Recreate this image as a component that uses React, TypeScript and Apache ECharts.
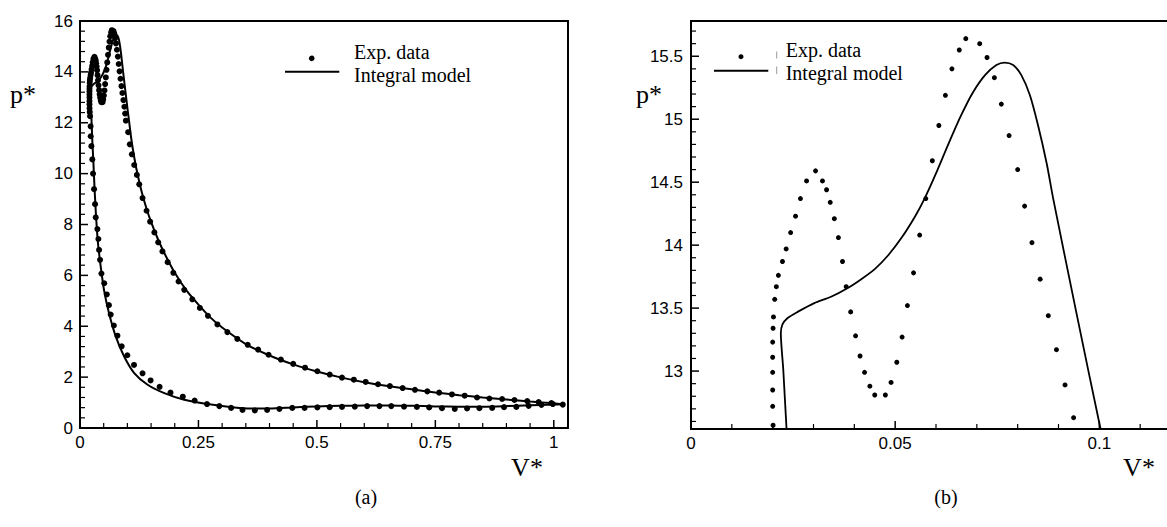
import React, { useEffect, useRef } from "react";
import * as echarts from "echarts";

// Experimental data (V*, p*) — compression branch
const expCompression: number[][] = [
  [0.998, 0.94], [0.974, 0.91], [0.947, 0.87], [0.921, 0.83], [0.895, 0.82], [0.87, 0.79],
  [0.843, 0.78], [0.817, 0.77], [0.791, 0.75], [0.764, 0.78], [0.737, 0.81], [0.711, 0.83],
  [0.684, 0.84], [0.657, 0.86], [0.632, 0.86], [0.606, 0.86], [0.58, 0.84], [0.553, 0.83],
  [0.527, 0.82], [0.501, 0.81], [0.474, 0.79], [0.448, 0.79], [0.421, 0.75], [0.395, 0.71],
  [0.369, 0.69], [0.343, 0.71], [0.319, 0.79], [0.294, 0.86], [0.268, 0.94], [0.242, 1.08],
  [0.217, 1.23], [0.191, 1.39], [0.168, 1.62], [0.149, 1.87], [0.132, 2.15], [0.114, 2.48],
  [0.1, 2.86], [0.088, 3.21], [0.079, 3.63], [0.0715, 4.03], [0.0648, 4.46], [0.061, 4.83],
  [0.0565, 5.25], [0.0512, 5.69], [0.0452, 6.07], [0.0424, 6.61], [0.0403, 7.0], [0.0388, 7.43],
  [0.0367, 7.82], [0.0332, 8.28], [0.0318, 8.8], [0.0297, 9.39], [0.0275, 10.0], [0.026, 10.56],
  [0.024, 11.08], [0.0226, 11.47], [0.0224, 11.86], [0.0212, 12.26], [0.0205, 12.42],
];

// Experimental data — combustion region
const expCombustion: number[][] = [
  [0.0201, 12.57], [0.02, 12.72], [0.02, 12.85], [0.02, 12.99], [0.02, 13.11], [0.02, 13.23],
  [0.0201, 13.34], [0.0202, 13.43], [0.0205, 13.57], [0.0209, 13.67], [0.0214, 13.76],
  [0.0224, 13.87], [0.0233, 13.97], [0.0244, 14.1], [0.0256, 14.23], [0.0268, 14.37],
  [0.0283, 14.51], [0.0305, 14.59], [0.0322, 14.51], [0.0332, 14.44], [0.0341, 14.34],
  [0.0351, 14.21], [0.0361, 14.06], [0.0371, 13.87], [0.038, 13.67], [0.0391, 13.47],
  [0.0403, 13.28], [0.0414, 13.12], [0.0425, 12.99], [0.0438, 12.88], [0.045, 12.81],
  [0.0476, 12.81], [0.049, 12.91], [0.0504, 13.07], [0.0517, 13.27], [0.053, 13.52],
  [0.0545, 13.78], [0.056, 14.08], [0.0575, 14.37], [0.0591, 14.67], [0.0607, 14.95],
  [0.0623, 15.19], [0.0639, 15.4], [0.0657, 15.55], [0.0673, 15.64], [0.0707, 15.6],
  [0.0725, 15.49], [0.0743, 15.33], [0.076, 15.12], [0.0779, 14.87], [0.08, 14.6],
  [0.0817, 14.31], [0.0835, 14.02], [0.0855, 13.73], [0.0875, 13.44], [0.0895, 13.17],
  [0.0916, 12.89], [0.0937, 12.63],
];

// Experimental data — expansion branch
const expExpansion: number[][] = [
  [0.0953, 12.36], [0.0968, 12.08], [0.1017, 11.63], [0.1052, 11.15], [0.1095, 10.76],
  [0.1144, 10.34], [0.12, 9.95], [0.125, 9.58], [0.132, 9.04], [0.1405, 8.54], [0.148, 8.11],
  [0.157, 7.69], [0.165, 7.3], [0.174, 6.94], [0.185, 6.52], [0.197, 6.1], [0.208, 5.76],
  [0.22, 5.43], [0.237, 5.06], [0.253, 4.72], [0.27, 4.41], [0.29, 4.07], [0.311, 3.77],
  [0.332, 3.5], [0.354, 3.27], [0.376, 3.08], [0.398, 2.88], [0.424, 2.69], [0.45, 2.52],
  [0.475, 2.37], [0.501, 2.23], [0.527, 2.1], [0.553, 1.98], [0.578, 1.9], [0.603, 1.81],
  [0.629, 1.72], [0.654, 1.65], [0.681, 1.57], [0.707, 1.5], [0.733, 1.44], [0.758, 1.39],
  [0.785, 1.32], [0.812, 1.27], [0.838, 1.2], [0.864, 1.16], [0.891, 1.14], [0.917, 1.1],
  [0.944, 1.06], [0.968, 1.02], [0.995, 0.98], [1.019, 0.92],
];

// Integral model — compression
const modelCompression: number[][] = [
  [1.02, 0.93], [1.0, 0.92], [0.95, 0.89], [0.9, 0.86], [0.85, 0.84], [0.8, 0.84], [0.75, 0.85],
  [0.7, 0.87], [0.65, 0.88], [0.6, 0.88], [0.55, 0.87], [0.5, 0.85], [0.45, 0.81], [0.4, 0.77],
  [0.36, 0.77], [0.326, 0.81], [0.277, 0.92], [0.22, 1.11], [0.178, 1.37], [0.1427, 1.7],
  [0.1144, 2.16], [0.0932, 2.81], [0.0756, 3.59], [0.0614, 4.5], [0.0508, 5.41], [0.0438, 6.33],
  [0.0381, 7.24], [0.0355, 7.85], [0.0332, 8.54], [0.0305, 9.5], [0.0282, 10.49], [0.0262, 11.2],
  [0.0245, 12.0], [0.0234, 12.54], [0.0226, 13.01], [0.022, 13.3],
];

// Integral model — combustion
const modelCombustion: number[][] = [
  [0.0224, 13.37], [0.0236, 13.42], [0.0261, 13.47], [0.0302, 13.54], [0.0343, 13.59],
  [0.0384, 13.66], [0.0417, 13.73], [0.045, 13.81], [0.0483, 13.92], [0.0516, 14.06],
  [0.0549, 14.23], [0.0572, 14.37], [0.06, 14.57], [0.063, 14.8], [0.066, 15.02], [0.069, 15.21],
  [0.072, 15.35], [0.0748, 15.43], [0.0768, 15.45], [0.0789, 15.43], [0.0809, 15.35],
  [0.083, 15.19], [0.085, 14.95], [0.0871, 14.65], [0.0887, 14.37], [0.0944, 13.46],
  [0.1003, 12.54],
];

// Integral model — expansion
const modelExpansion: number[][] = [
  [0.104, 12.0], [0.108, 11.4], [0.113, 10.8], [0.12, 10.1], [0.13, 9.3], [0.14, 8.65],
  [0.15, 8.1], [0.165, 7.4], [0.18, 6.8], [0.2, 6.1], [0.225, 5.4], [0.25, 4.85], [0.275, 4.35],
  [0.3, 3.95], [0.35, 3.3], [0.4, 2.85], [0.45, 2.5], [0.5, 2.22], [0.55, 1.99], [0.6, 1.8],
  [0.65, 1.65], [0.7, 1.52], [0.75, 1.4], [0.8, 1.29], [0.85, 1.2], [0.9, 1.12], [0.95, 1.04],
  [1.0, 0.97], [1.02, 0.93],
];

const legendLabels = ["Exp. data", "Integral model"];
const axisTitles = { x: "V*", y: "p*" };
const captions = ["(a)", "(b)"];

// Axis ranges and tick spacing (major, minor)
const leftX = { min: 0, max: 1.03, major: 0.25, minor: 0.05 };
const leftY = { min: 0, max: 16, major: 2, minor: 0.4 };
const rightX = { min: 0, max: 0.12, major: 0.05, minor: 0.01 };
const rightY = { min: 12.54, max: 15.78, major: 0.5, minor: 0.1 };

const expData = [...expCompression, ...expCombustion, ...expExpansion];
const modelData = [...modelCompression, ...modelCombustion, ...modelExpansion];

const SANS = "'Liberation Sans', Arial, Helvetica, sans-serif";
const SERIF = "'Liberation Serif', 'Times New Roman', Times, serif";

// tick values inside [min, max] (axis structure, not data)
function tickValues(r: { min: number; max: number }, step: number, skip?: number) {
  const out: number[] = [];
  const start = Math.ceil(r.min / step - 1e-9);
  const end = Math.floor(r.max / step + 1e-9);
  for (let i = start; i <= end; i++) {
    const v = Math.round(i * step * 1e6) / 1e6;
    if (skip && Math.abs(v / skip - Math.round(v / skip)) < 1e-6) continue;
    out.push(v);
  }
  return out;
}

// Inward tick marks drawn as thin rect symbols placed by the axes' own scales
function tickMarks(idx: number, rx: any, ry: any) {
  const base = {
    type: "scatter",
    xAxisIndex: idx,
    yAxisIndex: idx,
    symbol: "rect",
    silent: true,
    clip: false,
    z: 4,
    itemStyle: { color: "#000", opacity: 1 },
  };
  return [
    { ...base, data: tickValues(rx, rx.major).map((v) => [v, ry.min]), symbolSize: [1.5, 8], symbolOffset: [0, -4] },
    { ...base, data: tickValues(rx, rx.minor, rx.major).map((v) => [v, ry.min]), symbolSize: [1.2, 5], symbolOffset: [0, -2.5] },
    { ...base, data: tickValues(ry, ry.major).map((v) => [rx.min, v]), symbolSize: [8, 1.5], symbolOffset: [4, 0] },
    { ...base, data: tickValues(ry, ry.minor, ry.major).map((v) => [rx.min, v]), symbolSize: [5, 1.2], symbolOffset: [2.5, 0] },
  ];
}

function axis(extra: any) {
  const { labelExtra, ...rest } = extra;
  return {
    type: "value",
    axisLine: { show: true, onZero: false, lineStyle: { color: "#000", width: 2 } },
    axisTick: { show: false },
    minorTick: { show: false },
    splitLine: { show: false },
    minorSplitLine: { show: false },
    axisLabel: { color: "#000", fontFamily: SANS, fontSize: 17, margin: 7, ...labelExtra },
    ...rest,
  };
}

function borderAxis(extra: any) {
  return {
    type: "value",
    axisLine: { show: true, onZero: false, lineStyle: { color: "#000", width: 2 } },
    axisTick: { show: false },
    minorTick: { show: false },
    axisLabel: { show: false },
    splitLine: { show: false },
    minorSplitLine: { show: false },
    ...extra,
  };
}

function txt(text: string, x: number, y: number, size: number, align = "center") {
  return {
    type: "text", x, y, silent: true,
    style: { text, fontSize: size, fontFamily: SERIF, fill: "#000", align, verticalAlign: "middle" },
  };
}

export default function App() {
  const ref = useRef<HTMLDivElement>(null);
  useEffect(() => {
    document.body.style.margin = "0";
    const chart = echarts.init(ref.current!, null, { renderer: "svg" });
    const halfMult = (v: number) => Math.abs(v * 2 - Math.round(v * 2)) < 1e-6;
    chart.setOption({
      animation: false,
      backgroundColor: "#fff",
      grid: [
        { left: 80, top: 21, width: 488, height: 407, containLabel: false, outerBoundsMode: "none" },
        { left: 691, top: 21, width: 490, height: 408, containLabel: false, outerBoundsMode: "none" },
      ],
      xAxis: [
        axis({ gridIndex: 0, min: leftX.min, max: leftX.max, interval: leftX.major, position: "bottom", labelExtra: { showMaxLabel: false, margin: 6 } }),
        axis({ gridIndex: 1, min: rightX.min, max: rightX.max, interval: rightX.major, position: "bottom", labelExtra: { showMaxLabel: false, margin: 6 } }),
        borderAxis({ gridIndex: 0, min: leftX.min, max: leftX.max, position: "top" }),
        borderAxis({ gridIndex: 1, min: rightX.min, max: rightX.max, position: "top" }),
      ],
      yAxis: [
        axis({ gridIndex: 0, min: leftY.min, max: leftY.max, interval: leftY.major, position: "left" }),
        axis({
          gridIndex: 1, min: rightY.min, max: rightY.max, splitNumber: 5, position: "left",
          labelExtra: {
            showMinLabel: false, showMaxLabel: false, margin: 8,
            formatter: (v: number) => (halfMult(v) ? String(v) : ""),
          },
        }),
        borderAxis({ gridIndex: 0, min: leftY.min, max: leftY.max, position: "right" }),
        borderAxis({ gridIndex: 1, min: rightY.min, max: rightY.max, position: "right" }),
      ],
      series: [
        ...tickMarks(0, leftX, leftY),
        ...tickMarks(1, rightX, rightY),
        {
          name: legendLabels[1], type: "line", xAxisIndex: 0, yAxisIndex: 0, data: modelData,
          showSymbol: false, smooth: 0.25, clip: true,
          lineStyle: { color: "#000", width: 2 }, silent: true,
        },
        {
          name: legendLabels[0], type: "scatter", xAxisIndex: 0, yAxisIndex: 0, data: expData,
          symbol: "circle", symbolSize: 6, itemStyle: { color: "#000", opacity: 1 }, clip: true, silent: true,
        },
        {
          name: legendLabels[1], type: "line", xAxisIndex: 1, yAxisIndex: 1, data: modelData,
          showSymbol: false, smooth: 0.25, clip: true,
          lineStyle: { color: "#000", width: 1.8 }, silent: true,
        },
        {
          name: legendLabels[0], type: "scatter", xAxisIndex: 1, yAxisIndex: 1, data: expData,
          symbol: "circle", symbolSize: 5, itemStyle: { color: "#000", opacity: 1 }, clip: true, silent: true,
        },
      ],
      graphic: [
        txt(axisTitles.y, 23, 94, 26),
        txt(axisTitles.x, 527, 467, 26),
        txt(captions[0], 366, 497, 20),
        txt(axisTitles.y, 649, 94, 26),
        txt(axisTitles.x, 1139, 467, 26),
        txt(captions[1], 946, 497, 20),
        // left legend
        { type: "circle", silent: true, shape: { cx: 311.7, cy: 58.3, r: 2.8 }, style: { fill: "#000" } },
        { type: "rect", silent: true, shape: { x: 285, y: 70.7, width: 54.3, height: 2 }, style: { fill: "#000" } },
        txt(legendLabels[0], 354, 51.5, 20, "left"),
        txt(legendLabels[1], 354, 75, 20, "left"),
        // right legend
        { type: "circle", silent: true, shape: { cx: 741, cy: 56.7, r: 2.5 }, style: { fill: "#000" } },
        { type: "rect", silent: true, shape: { x: 714, y: 69.7, width: 54.3, height: 2 }, style: { fill: "#000" } },
        { type: "rect", silent: true, shape: { x: 776.2, y: 51.5, width: 1, height: 7 }, style: { fill: "#999" } },
        { type: "rect", silent: true, shape: { x: 776.2, y: 66.5, width: 1, height: 7.5 }, style: { fill: "#999" } },
        txt(legendLabels[0], 785.7, 49.8, 20, "left"),
        txt(legendLabels[1], 785.7, 73.3, 20, "left"),
      ],
    });
    return () => chart.dispose();
  }, []);
  return <div ref={ref} style={{ width: 1167, height: 527 }} />;
}
